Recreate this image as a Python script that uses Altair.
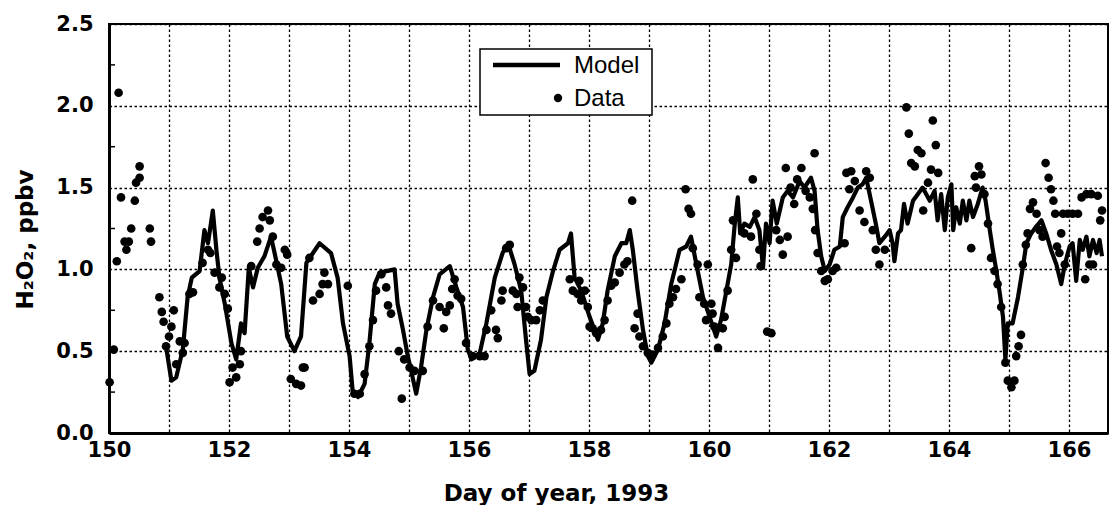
import altair as alt
import pandas as pd

# ---------------- data ----------------
model_day = [150.95, 151.04, 151.12, 151.23, 151.31, 151.38, 151.51, 151.59, 151.65, 151.73,
             151.79, 151.84, 151.93, 152.04, 152.12, 152.20, 152.26, 152.33, 152.40, 152.48,
             152.59, 152.70, 152.76, 152.87, 152.97, 153.09, 153.20, 153.29, 153.40, 153.51,
             153.70, 153.81, 153.90, 154.01, 154.06, 154.15, 154.26, 154.34, 154.43, 154.51,
             154.76, 154.81, 154.90, 154.98, 155.06, 155.12, 155.20, 155.29, 155.40, 155.51,
             155.68, 155.79, 155.90, 155.98, 156.04, 156.18, 156.29, 156.43, 156.56, 156.65,
             156.76, 156.87, 156.95, 157.01, 157.09, 157.20, 157.29, 157.40, 157.51, 157.65,
             157.70, 157.76, 157.87, 158.01, 158.15, 158.23, 158.31, 158.43, 158.54, 158.62,
             158.68, 158.73, 158.81, 158.90, 158.98, 159.04, 159.15, 159.26, 159.37, 159.51,
             159.62, 159.70, 159.79, 159.90, 160.01, 160.12, 160.20, 160.29, 160.37, 160.43,
             160.48, 160.52, 160.59, 160.68, 160.76, 160.84, 160.90, 160.95, 161.01, 161.06,
             161.13, 161.23, 161.31, 161.40, 161.51, 161.59, 161.70, 161.76, 161.81, 161.87,
             161.93, 162.01, 162.09, 162.18, 162.23, 162.31, 162.40, 162.48, 162.56, 162.62,
             162.70, 162.78, 162.84, 162.93, 163.01, 163.06, 163.09, 163.15, 163.20, 163.25,
             163.31, 163.40, 163.48, 163.56, 163.68, 163.76, 163.81, 163.87, 163.93, 163.98,
             164.04, 164.07, 164.12, 164.18, 164.23, 164.29, 164.34, 164.40, 164.48, 164.56,
             164.61, 164.68, 164.73, 164.79, 164.84, 164.90, 164.94, 164.98, 165.06, 165.15,
             165.23, 165.29, 165.37, 165.45, 165.54, 165.62, 165.70, 165.79, 165.87, 165.93,
             166.01, 166.06, 166.12, 166.18, 166.23, 166.29, 166.34, 166.40, 166.46, 166.51,
             166.55]
model_val = [0.53, 0.32, 0.34, 0.51, 0.83, 0.95, 0.99, 1.24, 1.16, 1.36,
             1.12, 0.95, 0.79, 0.55, 0.45, 0.67, 0.61, 1.01, 0.89, 1.01,
             1.08, 1.20, 1.10, 0.91, 0.59, 0.50, 0.59, 1.04, 1.10, 1.16,
             1.10, 0.95, 0.67, 0.47, 0.26, 0.22, 0.30, 0.55, 0.91, 0.98,
             1.00, 0.79, 0.63, 0.47, 0.34, 0.24, 0.40, 0.63, 0.83, 0.97,
             1.02, 0.89, 0.77, 0.51, 0.45, 0.49, 0.67, 0.95, 1.10, 1.16,
             1.03, 0.87, 0.57, 0.36, 0.38, 0.57, 0.83, 0.99, 1.12, 1.16,
             1.22, 0.95, 0.87, 0.71, 0.57, 0.67, 0.87, 1.08, 1.16, 1.16,
             1.24, 1.12, 0.87, 0.63, 0.47, 0.43, 0.51, 0.67, 0.91, 1.12,
             1.14, 1.20, 1.03, 0.83, 0.71, 0.59, 0.69, 0.87, 1.03, 1.28,
             1.44, 1.22, 1.28, 1.26, 1.32, 1.24, 1.01, 1.28, 1.16, 1.42,
             1.28, 1.44, 1.48, 1.44, 1.54, 1.50, 1.56, 1.48, 1.24, 1.08,
             0.99, 1.03, 1.12, 1.14, 1.32, 1.38, 1.44, 1.50, 1.52, 1.56,
             1.42, 1.28, 1.16, 1.20, 1.24, 1.16, 1.05, 1.22, 1.24, 1.40,
             1.28, 1.42, 1.46, 1.50, 1.42, 1.48, 1.30, 1.46, 1.24, 1.44,
             1.52, 1.24, 1.38, 1.28, 1.42, 1.30, 1.42, 1.32, 1.40, 1.50,
             1.42, 1.24, 1.12, 0.99, 0.87, 0.71, 0.45, 0.67, 0.67, 0.83,
             1.01, 1.16, 1.22, 1.26, 1.30, 1.22, 1.12, 1.03, 0.91, 1.03,
             1.14, 1.16, 0.93, 1.18, 1.12, 1.20, 1.08, 1.18, 1.10, 1.18,
             1.08]

data_day = [150.01, 150.08, 150.13, 150.16, 150.20, 150.26, 150.29, 150.33, 150.37, 150.43,
            150.45, 150.51, 150.51, 150.68, 150.70, 150.84, 150.88, 150.91, 150.95, 151.00,
            151.04, 151.08, 151.12, 151.18, 151.23, 151.26, 151.34, 151.40, 151.56, 151.65,
            151.69, 151.76, 151.84, 151.88, 151.93, 151.98, 152.01, 152.06, 152.12, 152.18,
            152.20, 152.37, 152.47, 152.51, 152.56, 152.65, 152.68, 152.73, 152.79, 152.87,
            152.93, 152.97, 153.03, 153.12, 153.20, 153.23, 153.26, 153.34, 153.40, 153.51,
            153.56, 153.59, 153.65, 153.98, 154.09, 154.18, 154.26, 154.34, 154.40, 154.45,
            154.54, 154.62, 154.65, 154.70, 154.83, 154.88, 154.92, 155.01, 155.09, 155.23,
            155.31, 155.40, 155.51, 155.58, 155.62, 155.68, 155.72, 155.76, 155.81, 155.87,
            155.95, 156.06, 156.18, 156.26, 156.29, 156.37, 156.45, 156.48, 156.54, 156.56,
            156.62, 156.68, 156.73, 156.79, 156.81, 156.84, 156.90, 156.95, 156.98, 157.04,
            157.12, 157.18, 157.23, 157.68, 157.73, 157.81, 157.84, 157.87, 157.93, 157.98,
            158.01, 158.06, 158.12, 158.20, 158.26, 158.31, 158.37, 158.43, 158.51, 158.59,
            158.64, 158.72, 158.76, 158.81, 158.84, 158.90, 158.98, 159.06, 159.15, 159.23,
            159.29, 159.34, 159.40, 159.45, 159.54, 159.61, 159.66, 159.70, 159.73, 159.81,
            159.84, 159.92, 159.95, 159.98, 160.04, 160.06, 160.09, 160.15, 160.23, 160.26,
            160.31, 160.37, 160.40, 160.45, 160.59, 160.70, 160.73, 160.79, 160.84, 160.86,
            160.97, 161.04, 161.12, 161.18, 161.23, 161.28, 161.31, 161.36, 161.42, 161.47,
            161.54, 161.61, 161.68, 161.73, 161.76, 161.77, 161.81, 161.87, 161.93, 161.98,
            162.06, 162.12, 162.26, 162.29, 162.34, 162.37, 162.43, 162.51, 162.59, 162.62,
            162.68, 162.73, 162.78, 162.84, 162.93, 163.29, 163.33, 163.37, 163.43, 163.48,
            163.54, 163.57, 163.65, 163.70, 163.73, 163.78, 163.82, 164.37, 164.43, 164.45,
            164.50, 164.54, 164.59, 164.65, 164.70, 164.76, 164.81, 164.87, 164.94, 164.98,
            165.04, 165.09, 165.12, 165.16, 165.20, 165.23, 165.28, 165.31, 165.35, 165.40,
            165.46, 165.51, 165.56, 165.61, 165.66, 165.70, 165.74, 165.77, 165.80, 165.84,
            165.87, 165.90, 165.93, 165.98, 166.06, 166.15, 166.21, 166.27, 166.29, 166.34,
            166.37, 166.40, 166.48, 166.52, 166.55]
data_val = [0.31, 0.51, 1.05, 2.08, 1.44, 1.17, 1.12, 1.17, 1.25, 1.42,
            1.53, 1.56, 1.63, 1.25, 1.17, 0.83, 0.74, 0.68, 0.53, 0.59,
            0.65, 0.75, 0.42, 0.56, 0.49, 0.55, 0.85, 0.86, 1.04, 1.12,
            1.10, 0.98, 0.89, 0.95, 0.85, 0.76, 0.31, 0.40, 0.34, 0.42,
            0.50, 1.02, 1.17, 1.25, 1.32, 1.36, 1.30, 1.20, 1.03, 1.01,
            1.12, 1.09, 0.33, 0.30, 0.29, 0.40, 0.40, 1.07, 0.81, 0.85,
            0.91, 0.98, 0.91, 0.90, 0.24, 0.24, 0.36, 0.53, 0.69, 0.87,
            0.97, 0.89, 0.78, 0.73, 0.50, 0.21, 0.45, 0.40, 0.38, 0.38,
            0.65, 0.81, 0.77, 0.64, 0.74, 0.78, 0.88, 0.94, 0.84, 0.82,
            0.55, 0.47, 0.47, 0.47, 0.63, 0.75, 0.63, 0.58, 0.81, 0.87,
            1.13, 1.15, 0.87, 0.85, 0.77, 0.95, 0.89, 0.77, 0.71, 0.69,
            0.69, 0.75, 0.81, 0.94, 0.87, 0.85, 0.93, 0.81, 0.87, 0.77,
            0.65, 0.64, 0.61, 0.63, 0.69, 0.81, 0.90, 0.92, 0.98, 1.03,
            1.05, 1.42, 0.64, 0.73, 0.59, 0.53, 0.49, 0.48, 0.52, 0.59,
            0.67, 0.79, 0.83, 0.88, 0.94, 1.49, 1.37, 1.34, 1.13, 1.03,
            0.83, 0.79, 0.69, 1.03, 0.79, 0.73, 0.65, 0.52, 0.64, 0.71,
            0.87, 1.12, 1.30, 1.07, 1.22, 1.20, 1.55, 1.34, 1.12, 1.02,
            0.62, 0.61, 1.24, 1.18, 1.09, 1.62, 1.20, 1.50, 1.40, 1.55,
            1.62, 1.48, 1.44, 1.37, 1.71, 1.24, 1.10, 0.99, 0.93, 0.94,
            0.99, 1.01, 1.16, 1.59, 1.49, 1.60, 1.54, 1.36, 1.29, 1.60,
            1.56, 1.24, 1.12, 1.03, 1.12, 1.99, 1.83, 1.65, 1.63, 1.73,
            1.71, 1.36, 1.53, 1.61, 1.91, 1.76, 1.59, 1.13, 1.57, 1.50,
            1.63, 1.58, 1.46, 1.28, 1.07, 0.99, 0.91, 0.77, 0.43, 0.32,
            0.28, 0.32, 0.47, 0.53, 0.60, 1.03, 1.15, 1.22, 1.37, 1.41,
            1.34, 1.24, 1.20, 1.65, 1.56, 1.49, 1.42, 1.34, 1.14, 1.10,
            1.22, 1.34, 1.03, 1.34, 1.34, 1.34, 1.44, 0.94, 1.46, 1.03,
            1.46, 1.03, 1.45, 1.30, 1.36]

x_ticks = list(range(150, 167))
y_ticks = [0.0, 0.5, 1.0, 1.5, 2.0, 2.5]
y_minor = [0.25, 0.75, 1.25, 1.75, 2.25]

model_df = pd.DataFrame({"day": model_day, "h2o2": model_val})
data_df = pd.DataFrame({"day": data_day, "h2o2": data_val})
minor_df = pd.DataFrame({"h2o2": y_minor})
one = pd.DataFrame({"k": [0]})

FONT = "DejaVu Sans"

x_scale = alt.Scale(domain=[150, 166.65], nice=False, zero=False)
y_scale = alt.Scale(domain=[0, 2.5], nice=False, zero=True)

x_axis = alt.Axis(
    values=x_ticks,
    labelExpr="datum.value % 2 == 0 ? datum.label : ''",
    format="d",
    grid=True, gridDash=[2.5, 2.5], gridColor="black", gridWidth=1.3, gridOpacity=1,
    ticks=False, domain=True, domainColor="black", domainWidth=3,
    labelFont=FONT, labelFontWeight="bold", labelFontSize=21, labelColor="black",
    labelPadding=6, labelFlush=False, labelOverlap=False,
    title="Day of year, 1993", titleFont=FONT, titleFontWeight="bold",
    titleFontSize=23, titleColor="black", titleX=447, titleY=60,
    titleAlign="center", titleBaseline="middle",
)
y_axis = alt.Axis(
    values=y_ticks, format=".1f",
    grid=True, gridDash=[2.5, 2.5], gridColor="black", gridWidth=1.3, gridOpacity=1,
    ticks=False, domain=True, domainColor="black", domainWidth=3,
    labelFont=FONT, labelFontWeight="bold", labelFontSize=21, labelColor="black",
    labelPadding=16, labelFlush=False, labelOverlap=False,
    title="H₂O₂, ppbv", titleFont=FONT, titleFontWeight="bold",
    titleFontSize=23, titleColor="black", titleX=-84, titleY=215,
    titleBaseline="middle", titleAngle=270,
)

line = alt.Chart(model_df).mark_line(color="black", strokeWidth=4.2, strokeJoin="round").encode(
    x=alt.X("day:Q", scale=x_scale, axis=x_axis),
    y=alt.Y("h2o2:Q", scale=y_scale, axis=y_axis),
)
points = alt.Chart(data_df).mark_circle(color="black", size=75, opacity=1).encode(
    x=alt.X("day:Q", scale=x_scale),
    y=alt.Y("h2o2:Q", scale=y_scale),
)
minor = alt.Chart(minor_df).mark_rule(color="black", strokeWidth=1.5).encode(
    x=alt.value(0), x2=alt.value(6),
    y=alt.Y("h2o2:Q", scale=y_scale),
)

# legend box
leg_box = alt.Chart(one).mark_rect(fill="white", stroke="black", strokeWidth=1.5).encode(
    x=alt.value(371), x2=alt.value(543), y=alt.value(25), y2=alt.value(91)
)
leg_line = alt.Chart(one).mark_rule(color="black", strokeWidth=4.5).encode(
    x=alt.value(384), x2=alt.value(451), y=alt.value(41)
)
leg_dot = alt.Chart(one).mark_circle(color="black", size=70, opacity=1).encode(
    x=alt.value(449), y=alt.value(74)
)
leg_t1 = alt.Chart(one).mark_text(text="Model", font="Liberation Sans", fontSize=24,
                                  align="left", baseline="middle", color="black").encode(
    x=alt.value(465), y=alt.value(42)
)
leg_t2 = alt.Chart(one).mark_text(text="Data", font="Liberation Sans", fontSize=24,
                                  align="left", baseline="middle", color="black").encode(
    x=alt.value(465), y=alt.value(75)
)

chart = alt.layer(minor, line, points, leg_box, leg_line, leg_dot, leg_t1, leg_t2).properties(
    width=999, height=409,
    autosize=alt.AutoSizeParams(type="none"),
    padding={"left": 109, "top": 24, "right": 4, "bottom": 72},
    background="white",
).configure_view(stroke="black", strokeWidth=2)

chart.save("out.html", embed_options={"renderer": "svg", "actions": False})
